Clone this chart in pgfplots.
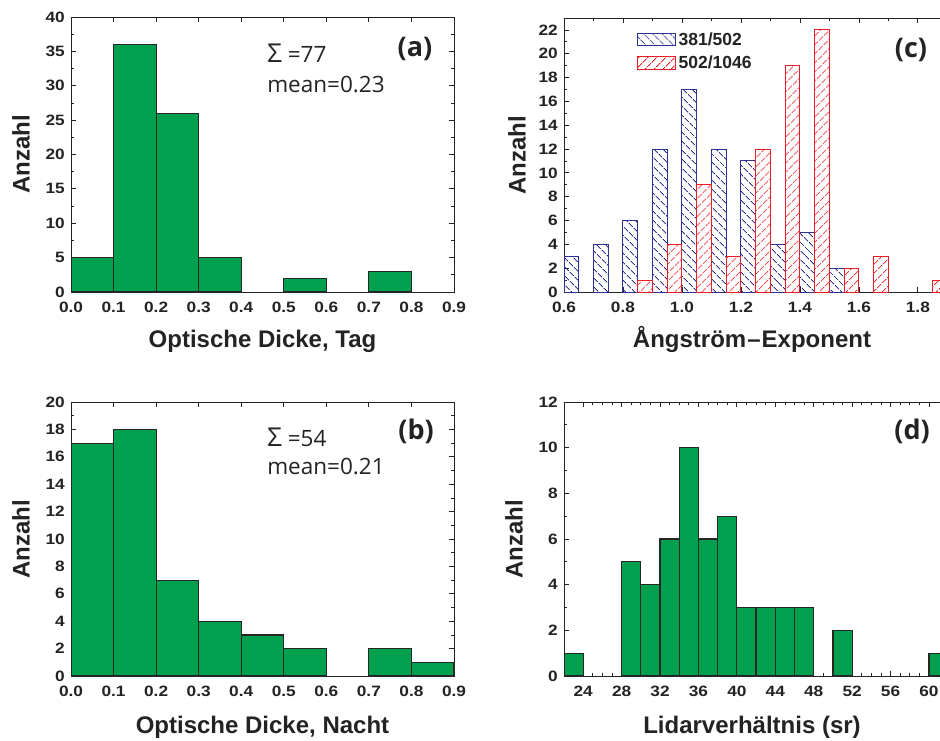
\documentclass[border=0pt]{standalone}
\usepackage{fontspec}
\setmainfont{Liberation Sans}
\newfontfamily\tickfont[FakeStretch=1.15]{Liberation Sans}
\newfontfamily\osans{Open Sans}
\usepackage{pgfplots}
\pgfplotsset{compat=1.18}
\usetikzlibrary{patterns.meta}

\definecolor{bargreen}{RGB}{0,160,78}
\definecolor{hblue}{RGB}{46,49,146}
\definecolor{hred}{RGB}{237,28,36}
\definecolor{axgray}{RGB}{35,35,35}

\tikzset{
  panel/.style={font=\osans\bfseries\fontsize{27}{30}\selectfont, text=axgray, inner sep=0pt},
  note/.style={font=\osans\fontsize{22.5}{26}\selectfont, text=axgray, inner sep=0pt, anchor=base west},
  green hist/.style={ybar, bar shift=0pt, fill=bargreen, draw=black!85, line width=1.2pt},
}
\pgfplotsset{
  myax/.style={
    scale only axis,
    anchor=north west,
    axis line style={-, axgray, line width=1pt},
    tick style={axgray, line width=0.8pt},
    major tick length=5pt, minor tick length=3pt,
    tick align=inside,
    ticklabel style={font=\tickfont\bfseries\fontsize{15}{17}\selectfont, text=axgray, inner sep=0pt},
    xticklabel style={yshift=-10pt},
    yticklabel style={xshift=-6pt},
    /pgf/number format/assume math mode=true,
    label style={font=\bfseries\fontsize{24}{28}\selectfont, text=axgray},
    xlabel style={at={(axis description cs:0.5,0)}, anchor=base, inner sep=0pt},
    ylabel style={anchor=north, inner sep=0pt},
    ymin=0,
  },
  onedec/.style={xticklabel style={/pgf/number format/.cd, fixed, fixed zerofill, precision=1}},
}

\begin{document}
\begin{tikzpicture}
\useasboundingbox (0,0) rectangle (940pt,-740pt);
\clip (0,0) rectangle (940pt,-740pt);

% (a)
\begin{axis}[myax, onedec, at={(71pt,-17pt)}, width=383pt, height=275pt,
  xmin=0, xmax=0.9, ymax=40,
  xtick={0,0.1,...,0.9}, ytick={0,5,...,40}, minor y tick num=1,
  xlabel={Optische Dicke, Tag}, ylabel={Anzahl},
  xlabel style={yshift=-55pt},
  ylabel style={at={(axis description cs:-0.154,0.5)}}]
\addplot[green hist, bar width=0.1] coordinates {(0.05,5) (0.15,36) (0.25,26) (0.35,5) (0.55,2) (0.75,3)};
\node[note] at (axis description cs:0.512,0.833) {{\fontsize{26}{26}\selectfont Σ} =77};
\node[note] at (axis description cs:0.512,0.727) {mean=0.23};
\node[panel] at (axis description cs:0.898,0.884) {(a)};
\end{axis}

% (b)
\begin{axis}[myax, onedec, at={(71pt,-402pt)}, width=383pt, height=274pt,
  xmin=0, xmax=0.9, ymax=20,
  xtick={0,0.1,...,0.9}, ytick={0,2,...,20}, minor y tick num=1,
  xlabel={Optische Dicke, Nacht}, ylabel={Anzahl},
  xlabel style={yshift=-57pt},
  ylabel style={at={(axis description cs:-0.154,0.5)}}]
\addplot[green hist, bar width=0.1] coordinates {(0.05,17) (0.15,18) (0.25,7) (0.35,4) (0.45,3) (0.55,2) (0.75,2) (0.85,1)};
\node[note] at (axis description cs:0.512,0.836) {{\fontsize{26}{26}\selectfont Σ} =54};
\node[note] at (axis description cs:0.512,0.737) {mean=0.21};
\node[panel] at (axis description cs:0.901,0.891) {(b)};
\end{axis}

% (c)
\begin{axis}[myax, onedec, at={(564pt,-18pt)}, width=376pt, height=274pt,
  axis y line*=left,
  xmin=0.6, xmax=1.875, ymax=23,
  xtick={0.6,0.8,1.0,1.2,1.4,1.6,1.8}, minor x tick num=1,
  ytick={0,2,...,22}, minor y tick num=1,
  xlabel={Ångström\kern1pt–\kern1pt Exponent}, ylabel={Anzahl},
  xlabel style={yshift=-55pt},
  ylabel style={at={(axis description cs:-0.149,0.5)}},
  legend style={at={(axis description cs:0.194,0.957)}, anchor=north west,
    draw=none, fill=none, inner sep=0pt, row sep=4pt,
    font=\bfseries\fontsize{17.5}{20}\selectfont, text=axgray,
    nodes={inner sep=2.5pt}},
  legend cell align=left]
\addlegendimage{legend image code/.code={\draw[draw=hblue, line width=1pt, pattern={Lines[angle=-45,distance=6.5pt,line width=1pt]}, pattern color=hblue] (0pt,-6pt) rectangle (38pt,6pt);}}
\addlegendentry{381/502}
\addlegendimage{legend image code/.code={\draw[draw=hred, line width=1pt, pattern={Lines[angle=45,distance=6.5pt,line width=1pt]}, pattern color=hred] (0pt,-6.5pt) rectangle (38pt,6.5pt);}}
\addlegendentry{502/1046}
\addplot[forget plot, ybar, bar width=0.05, bar shift=0pt, draw=hblue, line width=1pt,
  pattern={Lines[angle=-45,distance=6.5pt,line width=1pt]}, pattern color=hblue]
  coordinates {(0.625,3) (0.725,4) (0.825,6) (0.925,12) (1.025,17) (1.125,12) (1.225,11) (1.325,4) (1.425,5) (1.525,2)};
\addplot[forget plot, ybar, bar width=0.05, bar shift=0pt, draw=hred, line width=1pt,
  pattern={Lines[angle=45,distance=6.5pt,line width=1pt]}, pattern color=hred]
  coordinates {(0.875,1) (0.975,4) (1.075,9) (1.175,3) (1.275,12) (1.375,19) (1.475,22) (1.575,2) (1.675,3) (1.875,1)};
\node[panel] at (axis description cs:0.923,0.883) {(c)};
\end{axis}

% (d)
\begin{axis}[myax, at={(564pt,-402pt)}, width=376pt, height=274pt,
  axis y line*=left,
  xmin=22, xmax=61.15, ymax=12,
  xtick={24,28,...,60}, minor x tick num=3,
  ytick={0,2,...,12}, minor y tick num=1,
  xlabel={Lidarverhältnis (sr)}, ylabel={Anzahl},
  xlabel style={yshift=-57pt},
  ylabel style={at={(axis description cs:-0.157,0.5)}}]
\addplot[green hist, bar width=2] coordinates {(23,1) (29,5) (31,4) (33,6) (35,10) (37,6) (39,7) (41,3) (43,3) (45,3) (47,3) (51,2) (61,1)};
\node[panel] at (axis description cs:0.926,0.894) {(d)};
\end{axis}
\end{tikzpicture}
\end{document}
